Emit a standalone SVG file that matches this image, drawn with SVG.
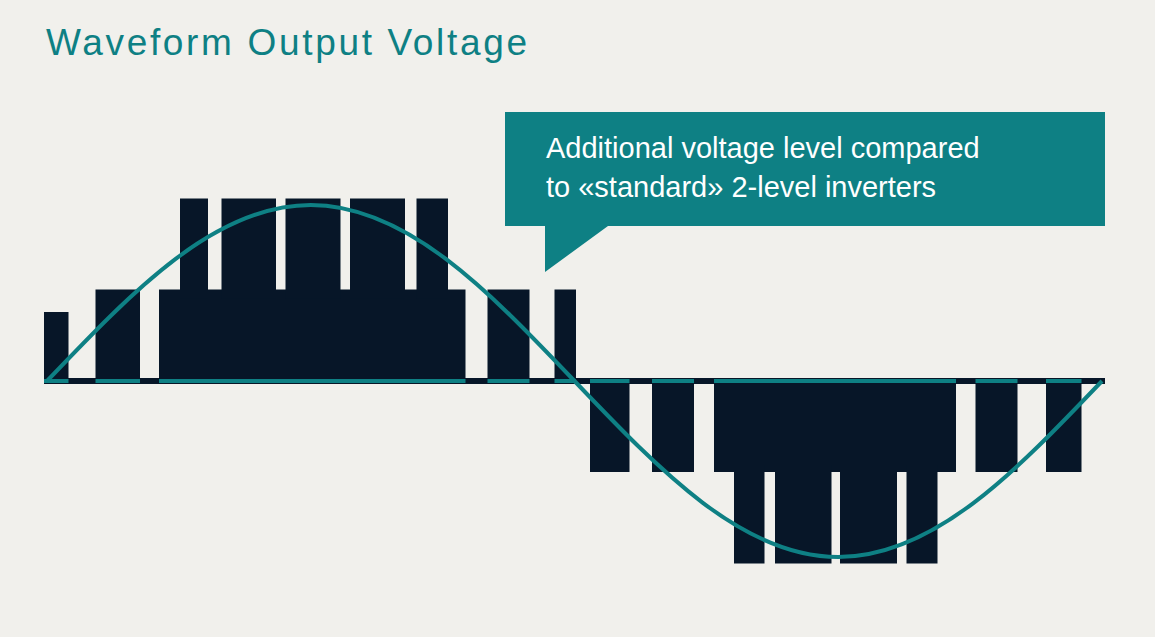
<svg xmlns="http://www.w3.org/2000/svg" width="1155" height="637" viewBox="0 0 1155 637">
<style>
.bar{fill:#071628}
.t{font-family:"Liberation Sans","DejaVu Sans",sans-serif}
</style>
<rect width="1155" height="637" fill="#f1f0ec"/>
<text class="t" x="46" y="55" font-size="37" fill="#0e8084" textLength="481">Waveform Output Voltage</text>
<g id="bars">
<rect class="bar" x="44" y="378" width="1061" height="6"/>
<rect class="bar" x="44" y="312" width="24.5" height="70"/>
<rect class="bar" x="95.5" y="289.5" width="44.5" height="92"/>
<rect class="bar" x="159" y="289.5" width="306.5" height="92"/>
<rect class="bar" x="180" y="198.5" width="28" height="100"/>
<rect class="bar" x="221.5" y="198.5" width="54.5" height="100"/>
<rect class="bar" x="285.5" y="198.5" width="55" height="100"/>
<rect class="bar" x="350" y="198.5" width="55" height="100"/>
<rect class="bar" x="416.5" y="198.5" width="31.5" height="100"/>
<rect class="bar" x="487.5" y="289.5" width="42" height="92"/>
<rect class="bar" x="554.5" y="289.5" width="21.5" height="92"/>
<rect class="bar" x="590" y="380" width="39.5" height="92"/>
<rect class="bar" x="652" y="380" width="42" height="92"/>
<rect class="bar" x="714" y="380" width="242" height="92"/>
<rect class="bar" x="975.5" y="380" width="42" height="92"/>
<rect class="bar" x="1046" y="380" width="35.5" height="92"/>
<rect class="bar" x="734" y="465" width="30.5" height="98.5"/>
<rect class="bar" x="775" y="465" width="56.5" height="98.5"/>
<rect class="bar" x="840" y="465" width="57" height="98.5"/>
<rect class="bar" x="906.5" y="465" width="31" height="98.5"/>
</g>
<g id="connectors" stroke="#0e8084" stroke-width="4" fill="none">
<path d="M44,381H68.5M95.5,381H140M159,381H465.5M487.5,381H529.5M554.5,381H576M590,381H629.5M652,381H694M714,381H956M975.5,381H1017.5M1046,381H1081.5"/>
<path d="M47,381 C133,290.8 215.3,205 310.75,205 C406.2,205 488.5,290.8 574.5,381 C660.5,471.2 742.8,557 838.25,557 C933.7,557 1016,471.2 1102,381"/>
</g>
<g id="callout">
<path d="M505,112H1105V226H608L545,272V226H505Z" fill="#0e8084"/>
<text class="t" x="546" y="158" font-size="29" fill="#ffffff">Additional voltage level compared</text>
<text class="t" x="546" y="197" font-size="29" fill="#ffffff">to «standard» 2-level inverters</text>
</g>
</svg>
